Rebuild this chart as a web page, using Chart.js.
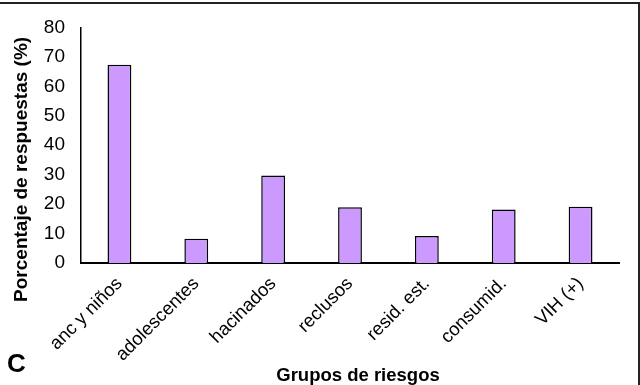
<!DOCTYPE html>
<html lang="es">
<head>
  <meta charset="UTF-8">
  <title>Grupos de riesgos</title>
  <style>
    body {
      margin: 0;
      background: #fff;
    }

    .wrap {
      position: relative;
      width: 640px;
      height: 385px;
    }

    canvas {
      position: absolute;
      left: 0;
      top: 0;
    }

    .frame {
      position: absolute;
      left: 0;
      top: 2px;
      width: 640px;
      height: 383px;
      box-sizing: border-box;
      border-top: 2px solid #222;
      border-right: 2px solid #222;
      pointer-events: none;
    }

    .panel {
      position: absolute;
      left: 7px;
      top: 348px;
      font: bold 26px 'Liberation Sans', Arial, sans-serif;
      color: #000;
    }
  </style>
  <script src="https://cdn.jsdelivr.net/npm/chart.js"></script>
</head>
<body>
  <div class="wrap">
    <canvas id="riesgos" width="640" height="385"></canvas>
    <div class="frame"></div>
    <div class="panel">C</div>
  </div>

  <script>
    // datos
    const grupos = ['anc y niños', 'adolescentes', 'hacinados', 'reclusos', 'resid. est.', 'consumid.', 'VIH (+)'];
    const porcentajes = [67.3, 8.2, 29.7, 18.9, 9.2, 18.2, 19.1];
    const tituloY = 'Porcentaje de respuestas (%)';
    const tituloX = 'Grupos de riesgos';

    const fuente = "'Liberation Sans', Arial, sans-serif";

    // títulos de los ejes, colocados como en el original
    const titulos = {
      id: 'titulos',
      afterDraw(chart) {
        const { ctx, chartArea } = chart;
        ctx.save();
        ctx.fillStyle = '#000';
        ctx.font = 'bold 18.5px ' + fuente;
        ctx.textAlign = 'center';
        ctx.textBaseline = 'middle';
        ctx.fillText(tituloX, chartArea.left + 277, 376);
        ctx.font = 'bold 19px ' + fuente;
        ctx.translate(22, chartArea.top + 142);
        ctx.rotate(-Math.PI / 2);
        ctx.fillText(tituloY, 0, 0);
        ctx.restore();
      }
    };

    new Chart(document.getElementById('riesgos'), {
      type: 'bar',
      data: {
        labels: grupos,
        datasets: [{
          data: porcentajes,
          backgroundColor: '#CC99FF',
          borderColor: '#000',
          borderWidth: 1.5,
          barPercentage: 0.31,
          categoryPercentage: 1
        }]
      },
      options: {
        responsive: false,
        animation: false,
        layout: { padding: { top: 22, right: 21, left: 0, bottom: 0 } },
        plugins: {
          legend: { display: false },
          tooltip: { enabled: false }
        },
        scales: {
          x: {
            grid: { display: false, drawTicks: false },
            border: { color: '#000', width: 2 },
            ticks: {
              color: '#000',
              font: { family: fuente, size: 18.5 },
              maxRotation: 45,
              minRotation: 45,
              padding: 10
            },
            afterFit(scale) { scale.height = 122; }
          },
          y: {
            min: 0,
            max: 80,
            grid: { display: false, drawTicks: false },
            border: { color: '#000', width: 1.5 },
            ticks: {
              stepSize: 10,
              color: '#000',
              font: { family: fuente, size: 19 },
              padding: 16
            },
            afterFit(scale) { scale.width = 81; }
          }
        }
      },
      plugins: [titulos]
    });
  </script>
</body>
</html>
